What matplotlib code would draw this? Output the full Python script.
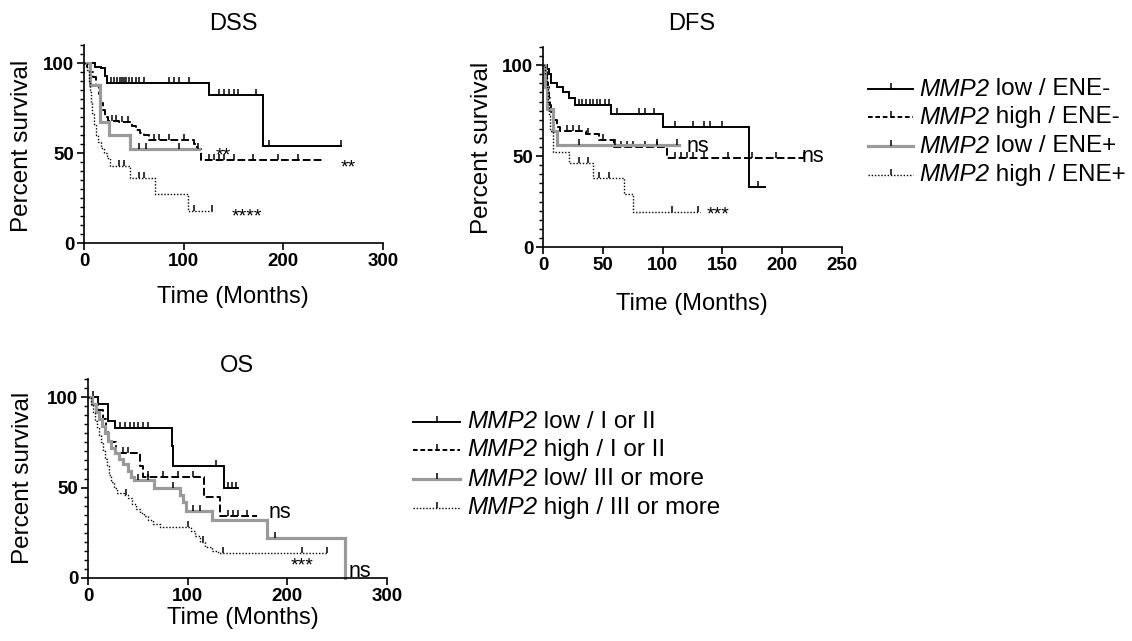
import numpy as np
import matplotlib
matplotlib.use("Agg")
import matplotlib.pyplot as plt
from matplotlib.lines import Line2D
from matplotlib.ticker import MultipleLocator

plt.rcParams['font.family'] = ['Liberation Sans', 'DejaVu Sans']

W, H = 1132, 641

# ---------------- DATA ----------------
gene = "MMP2"
series_names_ene = ["low / ENE-", "high / ENE-", "low / ENE+", "high / ENE+"]
series_names_stage = ["low / I or II", "high / I or II", "low/ III or more", "high / III or more"]

# DSS
dss_t1 = [0, 11, 17, 21, 23, 125, 180]
dss_s1 = [100, 98, 97, 93, 89, 82, 54]
dss_end1 = 258
dss_c1 = [27, 30, 33, 36, 38, 40, 42, 45, 48, 52, 55, 60, 85, 90, 95, 105, 135, 140, 145, 150, 155, 173, 186, 258]

dss_t2 = [0, 3, 6, 9, 12, 15, 17, 19, 21, 24, 35, 48, 52, 56, 60, 65, 110, 113, 117]
dss_s2 = [100, 98, 95, 92, 88, 83, 78, 74, 70, 68, 67, 65, 63, 61, 60, 57, 55, 52, 46]
dss_end2 = 240
dss_c2 = [28, 32, 38, 44, 70, 75, 85, 100, 125, 130, 135, 140, 150, 170, 195, 215]

dss_t3 = [0, 6, 16, 25, 46]
dss_s3 = [100, 88, 67, 60, 52]
dss_end3 = 115
dss_c3 = [55, 62, 95, 114]

dss_t4 = [0, 3, 5, 6, 7, 8, 10, 12, 14, 17, 20, 23, 26, 46, 71, 104]
dss_s4 = [100, 96, 90, 84, 78, 72, 66, 60, 56, 53, 50, 47, 43, 36, 27, 18]
dss_end4 = 130
dss_c4 = [35, 40, 55, 60, 110, 128]

# DFS
dfs_t1 = [0, 3, 5, 7, 12, 17, 22, 27, 57, 100, 172]
dfs_s1 = [100, 98, 95, 90, 88, 85, 82, 78, 73, 66, 33]
dfs_end1 = 186
dfs_c1 = [30, 33, 36, 39, 42, 45, 48, 52, 55, 62, 80, 85, 93, 110, 125, 135, 140, 150, 180]

dfs_t2 = [0, 2, 3, 4, 5, 6, 7, 9, 12, 14, 36, 47, 59, 104]
dfs_s2 = [100, 96, 92, 88, 82, 78, 74, 70, 66, 64, 62, 59, 55, 49]
dfs_end2 = 218
dfs_c2 = [20, 25, 30, 38, 50, 65, 70, 75, 85, 95, 110, 115, 120, 125, 135, 155, 175, 195, 218]

dfs_t3 = [0, 2, 3, 8, 12]
dfs_s3 = [100, 88, 76, 64, 56]
dfs_end3 = 114
dfs_c3 = [30, 60, 95, 112]

dfs_t4 = [0, 2, 3, 4, 5, 6, 8, 22, 42, 68, 75]
dfs_s4 = [100, 95, 88, 80, 72, 64, 52, 46, 38, 29, 19]
dfs_end4 = 131
dfs_c4 = [30, 38, 47, 55, 108, 130]

# OS
os_t1 = [0, 10, 20, 27, 84, 85, 136]
os_s1 = [100, 96, 87, 83, 73, 62, 50]
os_end1 = 150
os_c1 = [5, 32, 37, 42, 46, 50, 55, 60, 128, 140, 144, 148]

os_t2 = [0, 5, 10, 15, 18, 20, 28, 52, 55, 116, 132]
os_s2 = [100, 96, 93, 88, 82, 75, 69, 62, 56, 45, 34]
os_end2 = 170
os_c2 = [35, 40, 60, 75, 90, 105, 140, 145, 150, 160]

os_t3 = [0, 4, 8, 11, 14, 17, 20, 23, 27, 31, 35, 40, 43, 46, 66, 92, 95, 98, 124, 180, 258]
os_s3 = [100, 96, 92, 88, 84, 80, 76, 72, 69, 66, 63, 59, 56, 54, 50, 46, 42, 37, 32, 22, 0]
os_end3 = 258
os_c3 = [50, 60, 85, 105, 112, 188]

os_t4 = [0, 3, 5, 7, 9, 11, 13, 15, 17, 19, 21, 23, 26, 29, 36, 40, 44, 48, 52, 56, 60, 65, 72, 103, 107, 112, 117, 124, 130]
os_s4 = [100, 96, 91, 87, 83, 79, 75, 70, 66, 62, 57, 53, 50, 47, 46, 44, 41, 38, 36, 34, 32, 30, 28, 26, 23, 20, 17, 15, 14]
os_end4 = 240
os_c4 = [38, 100, 115, 135, 215, 240]

# annotations (text, x, y)
dss_notes = [("**", 132, 51), ("**", 258, 44), ("****", 148, 17)]
dfs_notes = [("ns", 120, 55.5), ("ns", 216, 50), ("***", 137, 20)]
os_notes = [("ns", 181, 36), ("***", 203, 9), ("ns", 261, 3.7)]

# ---------------- STYLE ----------------
GRAY = '#9a9a9a'
styles = [
    dict(color='black', lw=1.4, ls='-'),
    dict(color='black', lw=1.4, ls=(0, (4.0, 1.6))),
    dict(color=GRAY, lw=2.3, ls='-'),
    dict(color='black', lw=1.0, ls=(0, (1, 1.3))),
]
legend_ls = ['-', (0, (2.4, 1.4)), '-', (0, (1, 1.3))]

fig = plt.figure(figsize=(W / 100, H / 100), dpi=100)


def add_ax(l, r, t, b):
    return fig.add_axes([l / W, 1 - b / H, (r - l) / W, (b - t) / H])


def draw_curve(ax, t, s, end, c, st):
    x = list(t) + [end]
    y = list(s) + [s[-1]]
    ax.step(x, y, where='post', color=st['color'], lw=st['lw'], ls=st['ls'],
            solid_joinstyle='miter', clip_on=False)
    t_arr = np.asarray(t)
    s_arr = np.asarray(s)
    idx = np.searchsorted(t_arr, c, side='right') - 1
    ax.plot(c, s_arr[idx], ls='none', marker=2, ms=4.5, mew=1.1,
            color='black', clip_on=False)


def style_ax(ax, xmax, xstep):
    ax.set_xlim(0, xmax)
    ax.set_ylim(0, 110)
    for sp in ['top', 'right']:
        ax.spines[sp].set_visible(False)
    for sp in ['left', 'bottom']:
        ax.spines[sp].set_linewidth(1.2)
    ax.set_xticks(np.arange(0, xmax + 1, xstep))
    ax.set_yticks([0, 50, 100])
    ax.yaxis.set_minor_locator(MultipleLocator(5))
    ax.tick_params(axis='both', which='major', length=5, width=1.2, labelsize=13.5, pad=2)
    ax.tick_params(axis='y', which='minor', length=3, width=1.0)
    for lab in ax.get_xticklabels() + ax.get_yticklabels():
        lab.set_fontweight('bold')


panels = [
    (add_ax(84, 383, 45, 243), 300, 100,
     [(dss_t1, dss_s1, dss_end1, dss_c1), (dss_t2, dss_s2, dss_end2, dss_c2),
      (dss_t3, dss_s3, dss_end3, dss_c3), (dss_t4, dss_s4, dss_end4, dss_c4)],
     dss_notes),
    (add_ax(543, 842, 47, 247), 250, 50,
     [(dfs_t1, dfs_s1, dfs_end1, dfs_c1), (dfs_t2, dfs_s2, dfs_end2, dfs_c2),
      (dfs_t3, dfs_s3, dfs_end3, dfs_c3), (dfs_t4, dfs_s4, dfs_end4, dfs_c4)],
     dfs_notes),
    (add_ax(88, 387, 379, 578), 300, 100,
     [(os_t1, os_s1, os_end1, os_c1), (os_t2, os_s2, os_end2, os_c2),
      (os_t3, os_s3, os_end3, os_c3), (os_t4, os_s4, os_end4, os_c4)],
     os_notes),
]

for ax, xmax, xstep, curves, notes in panels:
    style_ax(ax, xmax, xstep)
    for (t, s, end, c), st in zip(curves, styles):
        draw_curve(ax, t, s, end, c, st)
    for txt, x, y in notes:
        if '*' in txt:
            ax.text(x, y - 2.5, txt, fontsize=14, ha='left', va='center')
        else:
            ax.text(x, y, txt, fontsize=15.5, ha='left', va='center')


def ftext(x, y, s, **kw):
    return fig.text(x / W, 1 - y / H, s, **kw)

LBL = 17
ftext(233, 24, "DSS", fontsize=LBL, ha='center', va='center')
ftext(692, 24, "DFS", fontsize=LBL, ha='center', va='center')
ftext(237, 366, "OS", fontsize=LBL, ha='center', va='center')

ftext(233, 297, "Time (Months)", fontsize=LBL, ha='center', va='center')
ftext(692, 304, "Time (Months)", fontsize=LBL, ha='center', va='center')
ftext(243, 618, "Time (Months)", fontsize=LBL, ha='center', va='center')

ftext(22, 146, "Percent survival", fontsize=17.5, ha='center', va='center', rotation=90)
ftext(482, 148, "Percent survival", fontsize=17.5, ha='center', va='center', rotation=90)
ftext(23, 478, "Percent survival", fontsize=17.5, ha='center', va='center', rotation=90)

renderer = fig.canvas.get_renderer()


def legend(x0, x1, xt, ys, names):
    for (y, name), st, lls in zip(zip(ys, names), styles, legend_ls):
        yf = 1 - y / H
        fig.add_artist(Line2D([x0 / W, x1 / W], [yf, yf], color=st['color'], lw=st['lw'],
                              ls=lls, transform=fig.transFigure))
        fig.add_artist(Line2D([(x0 + x1) / 2 / W], [yf], marker=2, ms=4.5, mew=1.1,
                              color='black', ls='none', transform=fig.transFigure))
        t1 = ftext(xt, y, gene, fontsize=17.5, style='italic', ha='left', va='center')
        bb = t1.get_window_extent(renderer)
        fig.text(bb.x1 / W, 1 - y / H, " " + name, fontsize=17.5, ha='left', va='center')

legend(868, 913, 919, [89, 117, 146, 175], series_names_ene)
legend(413, 460, 467, [422, 450, 479, 508], series_names_stage)

fig.savefig("out.png", dpi=100)
